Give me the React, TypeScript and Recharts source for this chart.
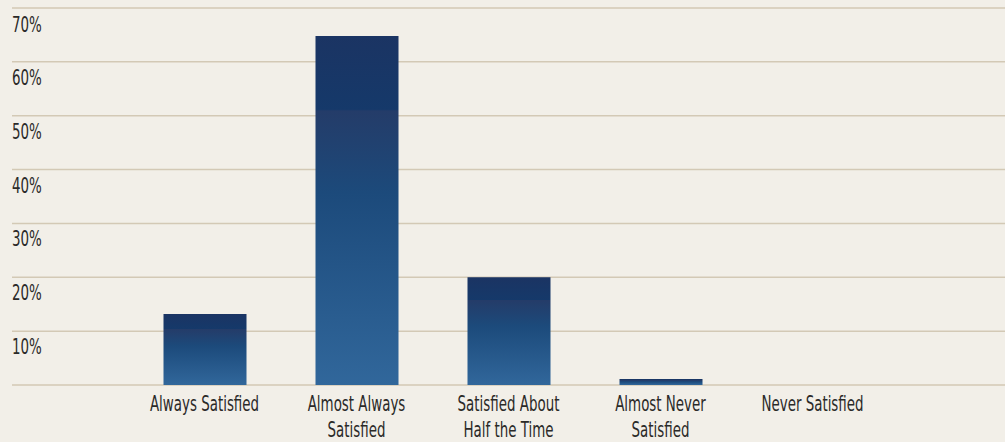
import { BarChart, Bar, XAxis, YAxis, CartesianGrid } from "recharts";

const categories = [
  "Always Satisfied",
  "Almost Always\nSatisfied",
  "Satisfied About\nHalf the Time",
  "Almost Never\nSatisfied",
  "Never Satisfied",
];
const shares = [13.2, 64.8, 20, 1.1, 0];
const yTicks = [0, 10, 20, 30, 40, 50, 60, 70];

const data = categories.map((name, i) => ({ name, share: shares[i] }));

const FONT = "'DejaVu Sans Condensed', 'Liberation Sans Narrow', sans-serif";
const INK = "#2b2a28";
const SQUEEZE = 0.71;

function XTick({ x, y, payload }: any) {
  const lines = String(payload.value).split("\n");
  return (
    <g>
      {lines.map((line, i) => (
        <text
          key={i}
          transform={`translate(${x},${y + 26 + i * 26}) scale(${SQUEEZE},1)`}
          textAnchor="middle"
          fontFamily={FONT}
          fontSize={21}
          fill={INK}
        >
          {line}
        </text>
      ))}
    </g>
  );
}

function YTick({ x, y, payload }: any) {
  if (payload.value === 0) return null;
  return (
    <text
      transform={`translate(${x},${y + 23}) scale(${SQUEEZE},1)`}
      textAnchor="start"
      fontFamily={FONT}
      fontSize={21}
      fill={INK}
    >
      {`${payload.value}%`}
    </text>
  );
}

export default function App() {
  return (
    <div
      style={{
        position: "absolute",
        left: 0,
        top: 0,
        width: 1005,
        height: 442,
        background: "#f2efe8",
      }}
    >
      <BarChart
        width={1005}
        height={442}
        data={data}
        margin={{ top: 8, right: 0, bottom: 0, left: -28 }}
      >
        <defs>
          <linearGradient id="barFill" x1="0" y1="0" x2="0" y2="1">
            <stop offset="0%" stopColor="#1b3463" />
            <stop offset="21%" stopColor="#15396a" />
            <stop offset="21.5%" stopColor="#243c69" />
            <stop offset="45%" stopColor="#1c4a7b" />
            <stop offset="100%" stopColor="#31679b" />
          </linearGradient>
        </defs>
        <CartesianGrid vertical={false} stroke="#d3c9b5" strokeWidth={1.5} />
        <XAxis
          dataKey="name"
          interval={0}
          axisLine={false}
          tickLine={false}
          tickSize={0}
          tickMargin={0}
          height={57}
          padding={{ left: 116.5, right: 116.5 }}
          tick={<XTick />}
        />
        <YAxis
          domain={[0, 70]}
          ticks={yTicks}
          width={40}
          axisLine={false}
          tickLine={false}
          tickSize={0}
          tickMargin={0}
          tick={<YTick />}
        />
        <Bar
          dataKey="share"
          barSize={83}
          fill="url(#barFill)"
          isAnimationActive={false}
        />
      </BarChart>
    </div>
  );
}
